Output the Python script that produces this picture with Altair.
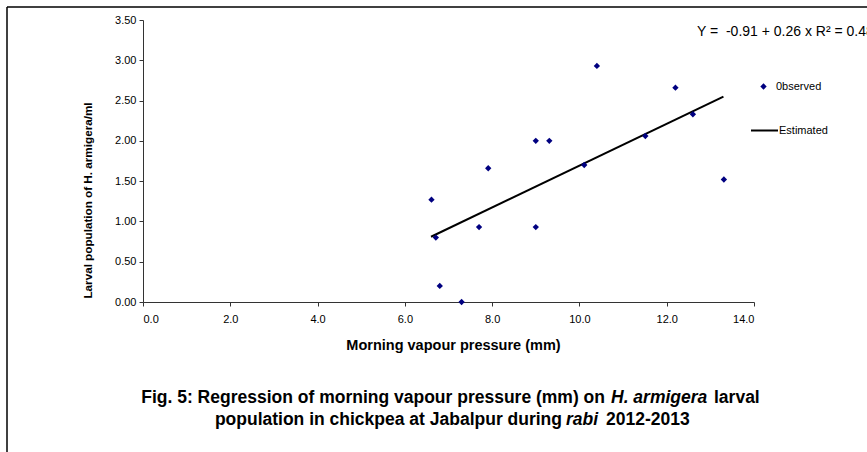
import altair as alt
import pandas as pd

# Observed data (morning vapour pressure, larval population)
obs_x = [6.61, 6.71, 6.80, 7.30, 7.70, 7.91, 9.00, 9.00, 9.31, 10.11, 10.40, 11.51, 12.20, 12.60, 13.31]
obs_y = [1.27, 0.80, 0.20, 0.00, 0.93, 1.66, 2.00, 0.93, 2.00, 1.70, 2.93, 2.06, 2.66, 2.33, 1.52]

# Estimated regression line (end points)
est_x = [6.6, 13.3]
est_y = [0.81, 2.55]

x_ticks = [0, 2, 4, 6, 8, 10, 12, 14]
y_ticks = [0, 0.5, 1.0, 1.5, 2.0, 2.5, 3.0, 3.5]

equation = "Y =\u00a0\u00a0-0.91 + 0.26 x R\u00b2 = 0.48"
cap1_a = "Fig. 5: Regression of morning vapour pressure (mm) on"
cap1_b = "H. armigera"
cap1_c = "larval"
cap2_a = "population in chickpea at Jabalpur during"
cap2_b = "rabi"
cap2_c = "2012-2013"

FONT = "Liberation Sans"

obs_df = pd.DataFrame({"x": obs_x, "y": obs_y, "series": ["0bserved"] * len(obs_x)})
est_df = pd.DataFrame({"x": est_x, "y": est_y, "series": ["Estimated"] * len(est_x)})
one = pd.DataFrame({"a": [0]})

x_scale = alt.Scale(domain=[0, 14], nice=False)
y_scale = alt.Scale(domain=[0, 3.5], nice=False)

x_axis = alt.Axis(
    values=x_ticks, format=".1f", title="Morning vapour pressure (mm)",
    grid=False, tickSize=4, labelPadding=7, domainColor="#333333", tickColor="#333333",
    labelFont=FONT, labelFontSize=11, labelColor="#000000",
    titleFont=FONT, titleFontSize=14.5, titleFontWeight="bold", titleColor="#000000",
    titleX=310, titleY=43, titleBaseline="middle", titleAlign="center",
)
y_axis = alt.Axis(
    values=y_ticks, format=".2f", title="Larval population of H. armigera/ml",
    grid=False, tickSize=4, labelPadding=3, domainColor="#333333", tickColor="#333333",
    labelFont=FONT, labelFontSize=11, labelColor="#000000",
    titleFont=FONT, titleFontSize=11.7, titleFontWeight="bold", titleColor="#000000",
    titleX=-56, titleY=180, titleAngle=270, titleBaseline="middle", titleAlign="center",
)

points = alt.Chart(obs_df).mark_point(shape="diamond", filled=True, size=40, opacity=1).encode(
    x=alt.X("x:Q", scale=x_scale, axis=x_axis),
    y=alt.Y("y:Q", scale=y_scale, axis=y_axis),
    color=alt.Color("series:N", scale=alt.Scale(domain=["0bserved"], range=["#000080"]),
                    legend=alt.Legend(title=None, orient="none", legendX=615, legendY=61,
                                      symbolType="diamond", symbolSize=40, labelOffset=7,
                                      labelFont=FONT, labelFontSize=11, labelColor="#000000",
                                      padding=0)),
)

line = alt.Chart(est_df).mark_line(strokeWidth=2).encode(
    x=alt.X("x:Q", scale=x_scale),
    y=alt.Y("y:Q", scale=y_scale),
    color=alt.Color("series:N", scale=alt.Scale(domain=["Estimated"], range=["#000000"]),
                    legend=alt.Legend(title=None, orient="none", legendX=607, legendY=96,
                                      symbolType="stroke", symbolSize=729, symbolStrokeWidth=2,
                                      labelOffset=0, labelFont=FONT, labelFontSize=11,
                                      labelColor="#000000", padding=0)),
)

def txt(s, x, y, size, weight="normal", style="normal", align="left"):
    return alt.Chart(one).mark_text(
        text=s, font=FONT, fontSize=size, fontWeight=weight, fontStyle=style,
        align=align, baseline="middle", color="#000000",
    ).encode(x=alt.value(x), y=alt.value(y))

eq = txt(equation, 554, 12, 14)

CS = 17.5
c1a = txt(cap1_a, 462, 378, CS, "bold", align="right")
c1b = txt(cap1_b, 468, 378, CS, "bold", "italic")
c1c = txt(cap1_c, 571, 378, CS, "bold")
c2a = txt(cap2_a, 419, 400, CS, "bold", align="right")
c2b = txt(cap2_b, 423, 400, CS, "bold", "italic")
c2c = txt(cap2_c, 463, 400, CS, "bold")

frame_v = alt.Chart(one).mark_rule(color="#000000", strokeWidth=1.5).encode(
    x=alt.value(-136), y=alt.value(-13), y2=alt.value(460))
frame_h = alt.Chart(one).mark_rule(color="#000000", strokeWidth=1.5).encode(
    x=alt.value(-136), x2=alt.value(760), y=alt.value(-13))

chart = alt.layer(
    frame_v, frame_h, line, points, eq, c1a, c1b, c1c, c2a, c2b, c2c
).resolve_scale(color="independent").properties(
    width=611, height=282,
    autosize=alt.AutoSizeParams(type="none"),
    padding={"left": 143, "top": 20, "right": 113, "bottom": 150},
    background="#ffffff",
).configure_view(stroke=None)

chart.save("out.html", embed_options={"renderer": "svg", "actions": False})
